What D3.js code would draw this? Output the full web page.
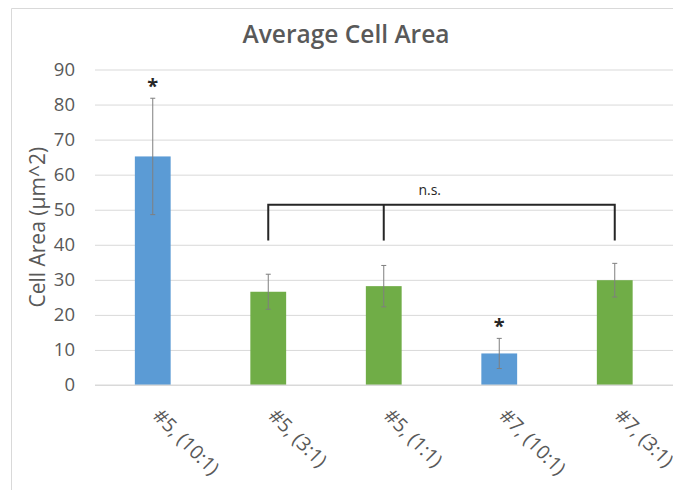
<!DOCTYPE html>
<html>
<head>
<meta charset="utf-8">
<script src="https://cdn.jsdelivr.net/npm/d3@7"></script>
<style>
  body { margin: 0; background: #fff; overflow: hidden; }
  svg { display: block; font-family: "Open Sans", sans-serif; }
</style>
</head>
<body>
<div id="chart"></div>
<script>
// data
const categories = ["#5, (10:1)", "#5, (3:1)", "#5, (1:1)", "#7, (10:1)", "#7, (3:1)"];
const ratios = ["10:1", "3:1", "1:1", "10:1", "3:1"];
const meanArea = [65.2, 26.6, 28.2, 9.0, 29.9];
const errorArea = [16.6, 5.0, 5.9, 4.3, 4.8];
const starred = ["#5, (10:1)", "#7, (10:1)"];
const nsGroup = ["#5, (3:1)", "#5, (1:1)", "#7, (3:1)"];
const nsLevels = [51.4, 41.2]; // bracket top, bracket legs
const yTicks = [0, 10, 20, 30, 40, 50, 60, 70, 80, 90];

const width = 673, height = 490;
const plotLeft = 95, plotRight = 672.5, plotTop = 69.5, plotBottom = 385;

const svg = d3.select("#chart").append("svg")
  .attr("width", width)
  .attr("height", height);

// chart area border (only left and top show in the crop)
svg.append("path")
  .attr("d", `M11.5,${height}V8.5H${width}`)
  .attr("fill", "none")
  .attr("stroke", "#d9d9d9");

const x = d3.scaleBand()
  .domain(categories)
  .range([plotLeft, plotRight])
  .paddingInner(0.69)
  .paddingOuter(0.345);

const y = d3.scaleLinear()
  .domain([0, 90])
  .range([plotBottom, plotTop]);

const color = d3.scaleOrdinal()
  .domain(["10:1", "3:1", "1:1"])
  .range(["#5b9bd5", "#70ad47", "#70ad47"]);

// gridlines + y labels
const yAxis = svg.append("g")
  .attr("transform", `translate(${plotLeft},0)`)
  .call(d3.axisLeft(y).tickValues(yTicks).tickSize(-(width - plotLeft)).tickPadding(20));
yAxis.select(".domain").remove();
yAxis.selectAll(".tick line").attr("stroke", "#d9d9d9").attr("stroke-width", 1);
yAxis.selectAll(".tick text")
  .attr("fill", "#595959")
  .style("font-size", "18.5px")
  .style("font-family", "'Open Sans', sans-serif");

// title
svg.append("text")
  .attr("x", 346).attr("y", 43)
  .attr("text-anchor", "middle")
  .attr("fill", "#595959")
  .style("font-size", "24.5px")
  .style("font-weight", 600)
  .text("Average Cell Area");

// y title
svg.append("text")
  .attr("transform", `translate(45,${(plotTop + plotBottom) / 2}) rotate(-90)`)
  .attr("text-anchor", "middle")
  .attr("fill", "#595959")
  .style("font-size", "21px")
  .text("Cell Area (µm^2)");

// bars
svg.append("g").selectAll("rect")
  .data(categories)
  .join("rect")
  .attr("x", d => x(d))
  .attr("y", (d, i) => y(meanArea[i]))
  .attr("width", x.bandwidth())
  .attr("height", (d, i) => y(0) - y(meanArea[i]))
  .attr("fill", (d, i) => color(ratios[i]));

// error bars
const err = svg.append("g").attr("stroke", "#7f7f7f").attr("stroke-width", 1);
categories.forEach((c, i) => {
  const cx = x(c) + x.bandwidth() / 2;
  const hi = y(meanArea[i] + errorArea[i]);
  const lo = y(meanArea[i] - errorArea[i]);
  err.append("line").attr("x1", cx).attr("x2", cx).attr("y1", hi).attr("y2", lo);
  err.append("line").attr("x1", cx - 2.5).attr("x2", cx + 2.5).attr("y1", hi).attr("y2", hi);
  err.append("line").attr("x1", cx - 2.5).attr("x2", cx + 2.5).attr("y1", lo).attr("y2", lo);
});

// base axis line
svg.append("line")
  .attr("x1", plotLeft).attr("x2", width)
  .attr("y1", y(0)).attr("y2", y(0))
  .attr("stroke", "#d9d9d9");

// x labels
svg.append("g").selectAll("text")
  .data(categories)
  .join("text")
  .attr("transform", d => `translate(${x(d) + x.bandwidth() / 2 - 1},${plotBottom + 32}) rotate(45)`)
  .attr("fill", "#595959")
  .style("font-size", "19.5px")
  .text(d => d);

// significance stars
svg.append("g").selectAll("text")
  .data(starred)
  .join("text")
  .attr("x", d => x(d) + x.bandwidth() / 2)
  .attr("y", d => {
    const i = categories.indexOf(d);
    return y(meanArea[i] + errorArea[i]) - 5;
  })
  .attr("text-anchor", "middle")
  .attr("fill", "#262626")
  .style("font-size", "20px")
  .style("font-weight", "bold")
  .text("*");

// n.s. bracket
const bx = nsGroup.map(d => x(d) + x.bandwidth() / 2);
const br = svg.append("g")
  .attr("stroke", "#262626")
  .attr("stroke-width", 2)
  .attr("fill", "none");
br.append("path")
  .attr("d", `M${bx[0]},${y(nsLevels[1])}V${y(nsLevels[0])}H${bx[bx.length - 1]}V${y(nsLevels[1])}`);
bx.slice(1, -1).forEach(v => {
  br.append("line").attr("x1", v).attr("x2", v).attr("y1", y(nsLevels[0])).attr("y2", y(nsLevels[1]));
});
svg.append("text")
  .attr("x", bx[1] + 46)
  .attr("y", y(nsLevels[0]) - 10)
  .attr("text-anchor", "middle")
  .attr("fill", "#262626")
  .style("font-size", "14px")
  .text("n.s.");
</script>
</body>
</html>
